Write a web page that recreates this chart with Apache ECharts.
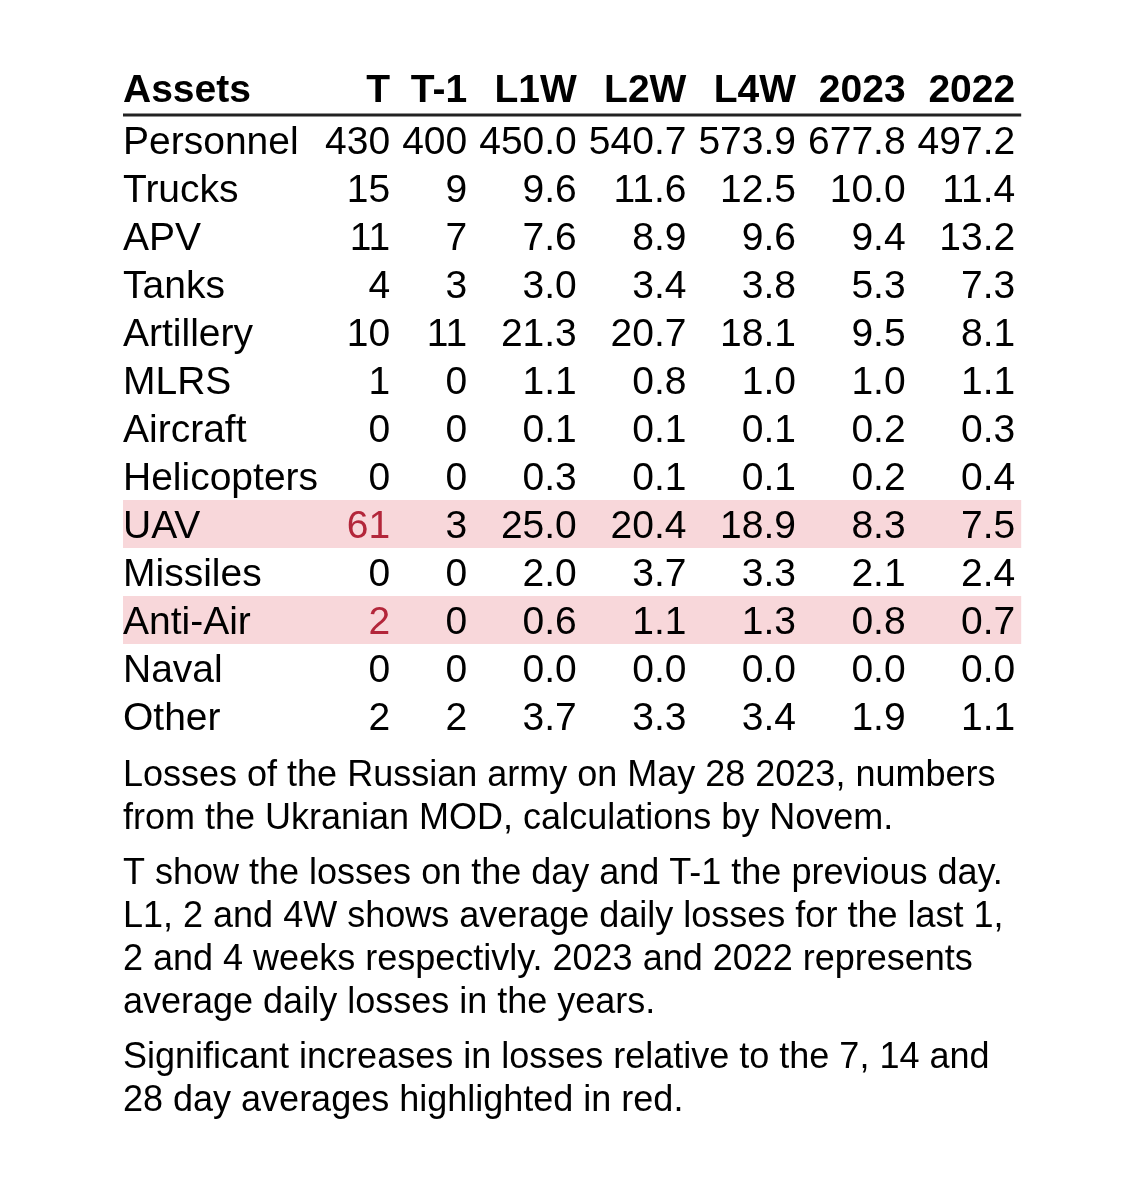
<!DOCTYPE html>
<html lang="en">
<head>
	<meta charset="UTF-8">
	<title>Russian army losses</title>
	<style>
		html, body { margin: 0; padding: 0; background: #fff; }
		#chart { width: 1140px; height: 1182px; }
	</style>
</head>
<body>
<div id="chart"></div>
<script src="https://cdn.jsdelivr.net/npm/echarts@6/dist/echarts.min.js"></script>
<script>
	// table data
	var assets = ['Personnel', 'Trucks', 'APV', 'Tanks', 'Artillery', 'MLRS', 'Aircraft',
		'Helicopters', 'UAV', 'Missiles', 'Anti-Air', 'Naval', 'Other'];
	var columns = ['T', 'T-1', 'L1W', 'L2W', 'L4W', '2023', '2022'];
	var lossT = [430, 15, 11, 4, 10, 1, 0, 0, 61, 0, 2, 0, 2];
	var lossT1 = [400, 9, 7, 3, 11, 0, 0, 0, 3, 0, 0, 0, 2];
	var avgL1W = [450.0, 9.6, 7.6, 3.0, 21.3, 1.1, 0.1, 0.3, 25.0, 2.0, 0.6, 0.0, 3.7];
	var avgL2W = [540.7, 11.6, 8.9, 3.4, 20.7, 0.8, 0.1, 0.1, 20.4, 3.7, 1.1, 0.0, 3.3];
	var avgL4W = [573.9, 12.5, 9.6, 3.8, 18.1, 1.0, 0.1, 0.1, 18.9, 3.3, 1.3, 0.0, 3.4];
	var avg2023 = [677.8, 10.0, 9.4, 5.3, 9.5, 1.0, 0.2, 0.2, 8.3, 2.1, 0.8, 0.0, 1.9];
	var avg2022 = [497.2, 11.4, 13.2, 7.3, 8.1, 1.1, 0.3, 0.4, 7.5, 2.4, 0.7, 0.0, 1.1];
	var highlighted = [['UAV', 'T'], ['Anti-Air', 'T']];
	var notes = [
		'Losses of the Russian army on May 28 2023, numbers\nfrom the Ukranian MOD, calculations by Novem.',
		'T show the losses on the day and T-1 the previous day.\nL1, 2 and 4W shows average daily losses for the last 1,\n2 and 4 weeks respectivly. 2023 and 2022 represents\naverage daily losses in the years.',
		'Significant increases in losses relative to the 7, 14 and\n28 day averages highlighted in red.'
	];

	var FONT = '"Liberation Sans", Arial, Helvetica, sans-serif';
	var SIZE = 39;
	var NOTE_SIZE = 36;
	var ROW = 48;
	var FIRST_GAP = 7;
	var GAP = 12;
	var RIGHT_PAD = 6;
	var RED = '#b3263a';
	var BAND = '#f8d7da';

	var values = [lossT, lossT1, avgL1W, avgL2W, avgL4W, avg2023, avg2022];
	function fmt(c, v) {
		return c < 2 ? String(v) : v.toFixed(1);
	}

	// measure column widths like a table layout would
	var ctx = document.createElement('canvas').getContext('2d');
	function textWidth(s, bold) {
		ctx.font = (bold ? 'bold ' : '') + SIZE + 'px ' + FONT;
		return ctx.measureText(s).width;
	}
	var firstW = textWidth('Assets', true);
	assets.forEach(function (a) { firstW = Math.max(firstW, textWidth(a, false)); });
	var colRight = [];
	var x = firstW;
	columns.forEach(function (col, c) {
		var w = textWidth(col, true);
		values[c].forEach(function (v) { w = Math.max(w, textWidth(fmt(c, v), false)); });
		x += (c === 0 ? FIRST_GAP : GAP) + w;
		colRight.push(x);
	});
	var tableW = x + RIGHT_PAD;

	var rows = ['Assets'].concat(assets);
	var isRed = {};
	highlighted.forEach(function (h) { isRed[h[0] + '|' + h[1]] = true; });

	var cellData = [];
	var bandData = [];
	rows.forEach(function (r, ri) {
		if (ri === 0) {
			cellData.push([-1, r, r, 'head']);
			columns.forEach(function (col, c) { cellData.push([c, r, col, 'head']); });
			return;
		}
		var a = ri - 1;
		var rowHit = false;
		cellData.push([-1, r, r, 'body']);
		columns.forEach(function (col, c) {
			var red = isRed[r + '|' + col];
			if (red) rowHit = true;
			cellData.push([c, r, fmt(c, values[c][a]), red ? 'red' : 'body']);
		});
		if (rowHit) bandData.push([0, r]);
	});

	var gridTop = 68;
	var gridLeft = 123;
	var gridBottomPx = gridTop + rows.length * ROW;

	var myChart = echarts.init(document.getElementById('chart'), null, { renderer: 'canvas' });
	var option = {
		backgroundColor: '#fff',
		animation: false,
		grid: { left: gridLeft, top: gridTop, width: tableW, height: rows.length * ROW },
		xAxis: { type: 'value', min: 0, max: 1, show: false },
		yAxis: { type: 'category', data: rows, inverse: true, show: false },
		series: [
			{
				// highlighted rows
				type: 'custom',
				silent: true,
				data: bandData,
				encode: { x: 0, y: 1 },
				renderItem: function (params, api) {
					var cy = api.coord([0, api.value(1)])[1];
					var h = api.size([0, 1])[1];
					return {
						type: 'rect',
						shape: { x: params.coordSys.x, y: cy - h / 2, width: params.coordSys.width, height: h },
						style: { fill: BAND }
					};
				}
			},
			{
				// cell texts
				type: 'custom',
				silent: true,
				data: cellData,
				encode: { y: 1 },
				renderItem: function (params, api) {
					var item = cellData[params.dataIndex];
					var c = item[0];
					var kind = item[3];
					var cy = api.coord([0, item[1]])[1];
					var h = api.size([0, 1])[1];
					var left = params.coordSys.x;
					var children = [];
					var head = kind === 'head';
					children.push({
						type: 'text',
						style: {
							text: item[2],
							x: c < 0 ? left : left + colRight[c],
							y: cy + (head ? -1 : 3),
							align: c < 0 ? 'left' : 'right',
							verticalAlign: 'middle',
							font: (head ? 'bold ' : '') + SIZE + 'px ' + FONT,
							fill: kind === 'red' ? RED : '#000'
						}
					});
					if (head && c < 0) {
						children.push({
							type: 'line',
							shape: { x1: left, y1: cy + h / 2 - 1, x2: left + colRight[columns.length - 1] + RIGHT_PAD, y2: cy + h / 2 - 1 },
							style: { stroke: '#222', lineWidth: 3 }
						});
					}
					return { type: 'group', children: children };
				}
			}
		],
		graphic: (function () {
			var els = [];
			var top = gridBottomPx + 15;
			notes.forEach(function (n) {
				var lines = n.split('\n').length;
				els.push({
					type: 'text',
					left: gridLeft,
					top: top,
					style: {
						text: n,
						font: NOTE_SIZE + 'px ' + FONT,
						lineHeight: 43,
						fill: '#000'
					}
				});
				top += lines * 43 + 12;
			});
			return els;
		})()
	};
	myChart.setOption(option);
</script>
</body>
</html>
